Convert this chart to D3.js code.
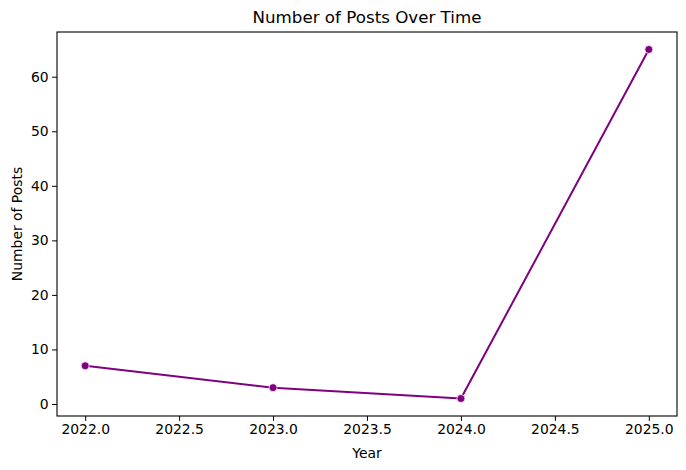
<!DOCTYPE html>
<html>
<head>
<meta charset="utf-8">
<script src="https://cdn.jsdelivr.net/npm/d3@7"></script>
<style>
  html, body { margin: 0; padding: 0; background: #fff; }
  svg { display: block; font-family: "DejaVu Sans", sans-serif; }
</style>
</head>
<body>
<svg id="chart" width="686" height="470"></svg>
<script>
const years = [2022, 2023, 2024, 2025];
const posts = [7, 3, 1, 65];
const xTicks = [2022.0, 2022.5, 2023.0, 2023.5, 2024.0, 2024.5, 2025.0];
const yTicks = [0, 10, 20, 30, 40, 50, 60];
const title = "Number of Posts Over Time";
const xLabel = "Year";
const yLabel = "Number of Posts";

const svg = d3.select("#chart");
const L = 57, R = 677, T = 32, B = 416;
const color = "#800080";

const xMin = d3.min(years), xMax = d3.max(years);
const yMin = d3.min(posts), yMax = d3.max(posts);
const xPad = (xMax - xMin) * 0.05, yPad = (yMax - yMin) * 0.05;
const x = d3.scaleLinear().domain([xMin - xPad, xMax + xPad]).range([L, R]);
const y = d3.scaleLinear().domain([yMin - yPad, yMax + yPad]).range([B, T]);

const xAxis = d3.axisBottom(x).tickValues(xTicks).tickFormat(d3.format(".1f")).tickSizeInner(4.9).tickSizeOuter(0).tickPadding(3.5);
const yAxis = d3.axisLeft(y).tickValues(yTicks).tickFormat(d3.format("d")).tickSizeInner(4.9).tickSizeOuter(0).tickPadding(3.5);

const gx = svg.append("g").attr("transform", `translate(0,${B})`).call(xAxis);
const gy = svg.append("g").attr("transform", `translate(${L},0)`).call(yAxis);
[gx, gy].forEach(g => {
  g.select(".domain").remove();
  g.selectAll(".tick line").attr("stroke", "#000").attr("stroke-width", 1);
  g.selectAll(".tick text").attr("fill", "#000").style("font-size", "13.9px").style("font-family", "DejaVu Sans, sans-serif");
});

// line
const line = d3.line().x((d, i) => x(years[i])).y(d => y(d));
svg.append("path").datum(posts).attr("d", line)
  .attr("fill", "none").attr("stroke", color).attr("stroke-width", 2)
  .attr("stroke-linejoin", "round").attr("stroke-linecap", "round");

svg.selectAll("circle.pt").data(posts).enter().append("circle")
  .attr("class", "pt")
  .attr("cx", (d, i) => x(years[i])).attr("cy", d => y(d)).attr("r", 4)
  .attr("fill", color).attr("stroke", "#fff").attr("stroke-width", 0.75);

// frame
svg.append("rect").attr("x", L).attr("y", T).attr("width", R - L).attr("height", B - T)
  .attr("fill", "none").attr("stroke", "#000").attr("stroke-width", 1.1);

svg.append("text").attr("x", (L + R) / 2).attr("y", 23).attr("text-anchor", "middle")
  .style("font-size", "16.7px").attr("fill", "#000").text(title);
svg.append("text").attr("x", (L + R) / 2).attr("y", 458).attr("text-anchor", "middle")
  .style("font-size", "13.9px").attr("fill", "#000").text(xLabel);
svg.append("text").attr("transform", `translate(22,${(T + B) / 2}) rotate(-90)`).attr("text-anchor", "middle")
  .style("font-size", "13.9px").attr("fill", "#000").text(yLabel);
</script>
</body>
</html>
